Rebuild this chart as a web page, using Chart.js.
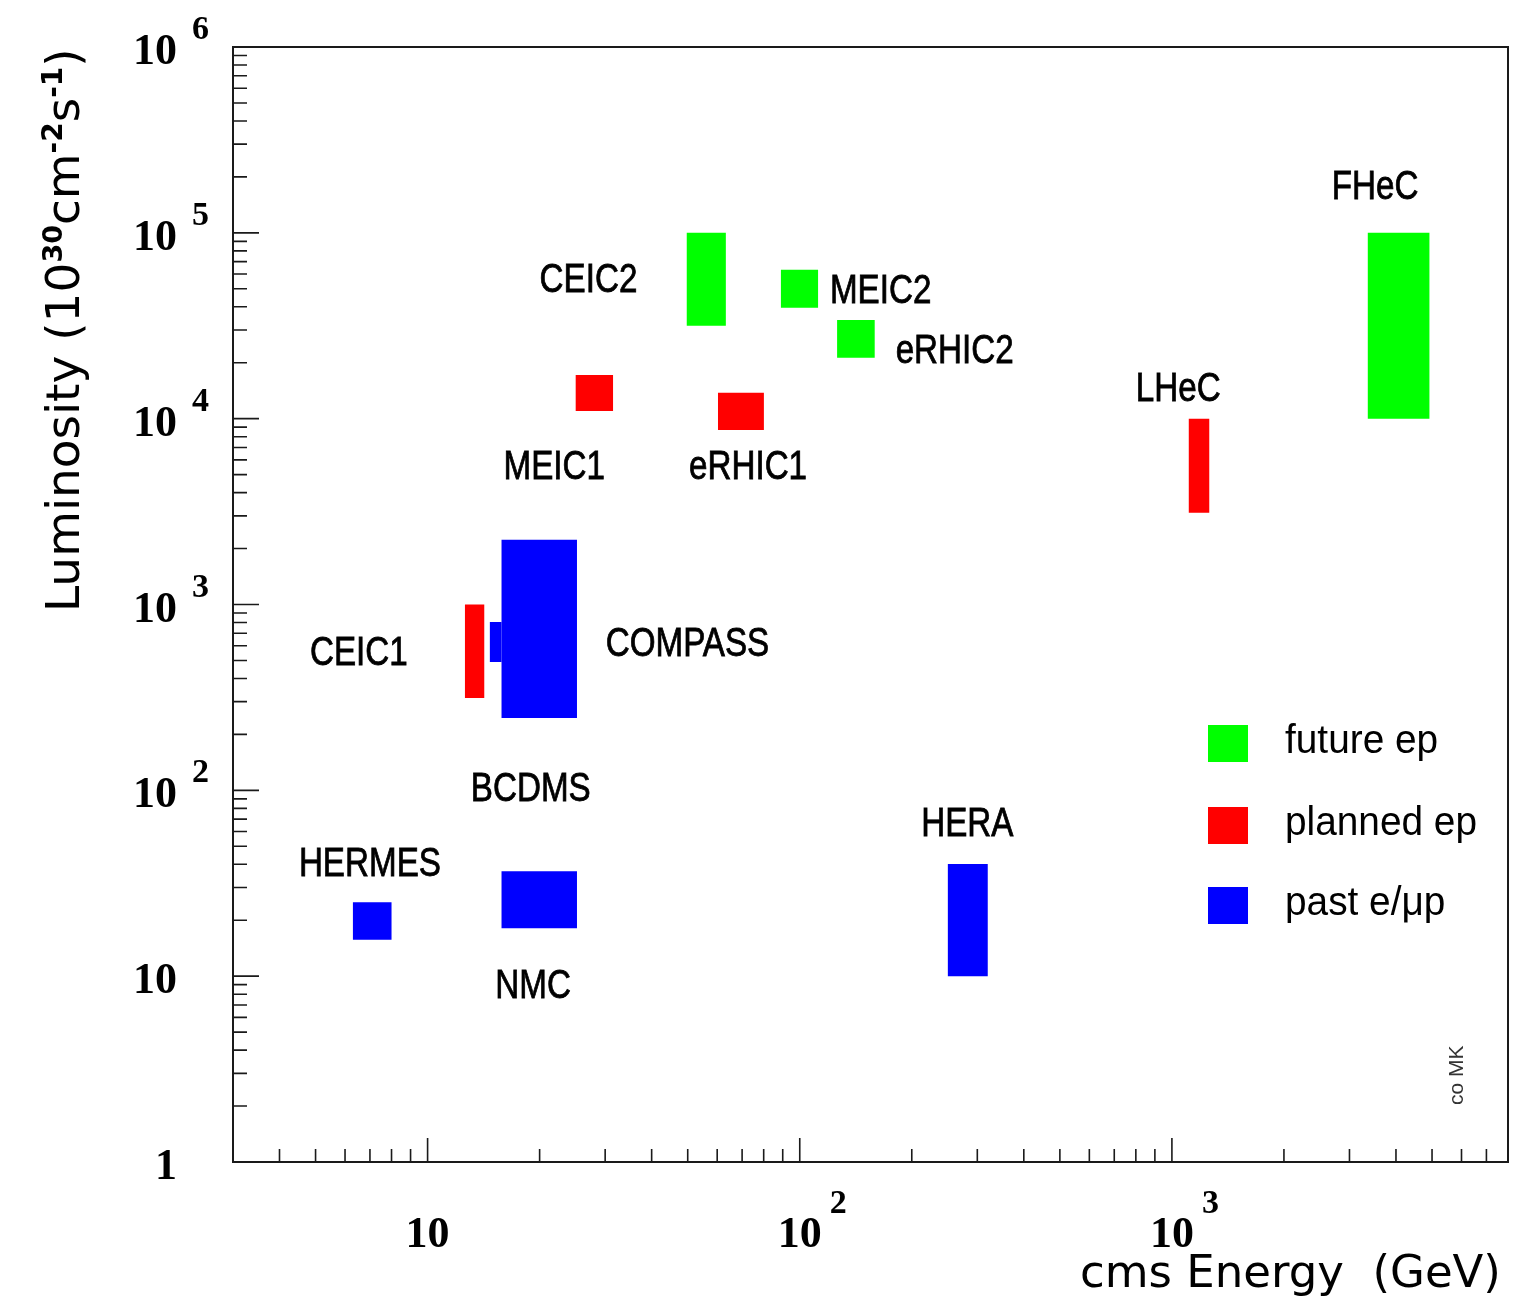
<!DOCTYPE html>
<html>
<head>
<meta charset="utf-8">
<script src="https://cdn.jsdelivr.net/npm/chart.js@4.4.1/dist/chart.umd.min.js"></script>
<style>
    html, body { margin: 0; padding: 0; background: #fff; }
    #wrap { width: 1519px; height: 1311px; position: relative; }
</style>
</head>
<body>
<div id="wrap"><canvas id="lumiChart"></canvas></div>
<script>
// axis ranges (log scales)
const energyRange = [3, 8000];
const lumiRange = [1, 1e6];

// boxes: cms energy (GeV) and luminosity (1e30 cm^-2 s^-1) ranges
const boxNames   = ['HERMES', 'NMC', 'COMPASS', 'COMPASS', 'HERA', 'CEIC1', 'MEIC1', 'eRHIC1', 'LHeC', 'CEIC2', 'MEIC2', 'eRHIC2', 'FHeC'];
const boxGroup   = ['past', 'past', 'past', 'past', 'past', 'planned', 'planned', 'planned', 'planned', 'future', 'future', 'future', 'future'];
const energyLow  = [6.3, 15.8, 15.8, 14.7, 250, 12.6, 25.0, 60.3, 1110, 49.7, 89.0, 126, 3360];
const energyHigh = [8.0, 25.2, 25.2, 15.8, 320, 14.2, 31.5, 80.1, 1260, 63.3, 112, 159, 4920];
const lumiLow    = [15.7, 18.1, 245, 491, 10, 314, 11000, 8700, 3120, 31600, 39500, 21300, 10000];
const lumiHigh   = [25.0, 36.7, 2230, 806, 40.2, 1000, 17200, 13800, 10000, 100000, 63200, 34000, 100000];

// text labels, anchored at (energy, luminosity) = left / baseline
const labelNames = ['HERMES', 'NMC', 'COMPASS', 'BCDMS', 'HERA', 'CEIC1', 'MEIC1', 'eRHIC1', 'LHeC', 'CEIC2', 'MEIC2', 'eRHIC2', 'FHeC'];
const labelX     = [4.51, 15.2, 30.1, 13.07, 212, 4.83, 16.0, 50.4, 800, 20.0, 120.5, 181, 2690];
const labelY     = [34.6, 7.63, 529, 87.7, 56.8, 473, 4740, 4740, 12470, 48100, 42000, 19950, 152000];

const legendGroups = ['future', 'planned', 'past'];
const legendLabels = ['future ep', 'planned ep', 'past e/\u03BCp'];
const groupColors = { future: '#00ff00', planned: '#ff0000', past: '#0000ff' };

const yDecades = [0, 1, 2, 3, 4, 5, 6];
const xDecades = [1, 2, 3];

//..one closed polygon per box
const datasets = boxNames.map((name, i) => ({
    label: name,
    data: [
        { x: energyLow[i],  y: lumiLow[i] },
        { x: energyHigh[i], y: lumiLow[i] },
        { x: energyHigh[i], y: lumiHigh[i] },
        { x: energyLow[i],  y: lumiHigh[i] },
        { x: energyLow[i],  y: lumiLow[i] }
    ],
    showLine: true,
    fill: 'shape',
    backgroundColor: groupColors[boxGroup[i]],
    borderColor: 'rgba(0,0,0,0)',
    borderWidth: 1,
    pointRadius: 0,
    tension: 0
}));

function drawRuns(ctx, runs, x, y) {
    //..runs: [text, size, weight, rise, family]
    let cx = x;
    runs.forEach(r => {
        ctx.font = `${r[2]} ${r[1]}px ${r[4]}`;
        ctx.fillText(r[0], cx, y - r[3]);
        cx += ctx.measureText(r[0]).width;
    });
}

const axisFrame = {
    id: 'axisFrame',
    afterDraw(chart) {
        const { ctx, chartArea: a, scales: { x, y } } = chart;
        ctx.save();

        //..frame
        ctx.strokeStyle = '#1a1a1a';
        ctx.lineWidth = 2;
        ctx.strokeRect(a.left, a.top, a.right - a.left, a.bottom - a.top);

        //..ticks
        ctx.lineWidth = 1.6;
        ctx.beginPath();
        for (let d = 0; d < 6; d++) {
            for (let k = 1; k <= 9; k++) {
                const v = k * Math.pow(10, d);
                const py = y.getPixelForValue(v);
                const len = k === 1 ? 26 : 14;
                ctx.moveTo(a.left, py);
                ctx.lineTo(a.left + len, py);
            }
        }
        for (let d = 0; d < 4; d++) {
            for (let k = 1; k <= 9; k++) {
                const v = k * Math.pow(10, d);
                if (v <= energyRange[0] || v >= energyRange[1]) continue;
                const px = x.getPixelForValue(v);
                const len = k === 1 ? 24 : 13;
                ctx.moveTo(px, a.bottom);
                ctx.lineTo(px, a.bottom - len);
            }
        }
        ctx.stroke();

        //..tick labels
        ctx.fillStyle = '#000';
        const serif = '"Liberation Serif", "Times New Roman", serif';
        yDecades.forEach(d => {
            const py = y.getPixelForValue(Math.pow(10, d));
            ctx.font = `bold 44px ${serif}`;
            ctx.textAlign = 'right';
            ctx.fillText(d === 0 ? '1' : '10', a.left - 56, py + 17);
            if (d > 1) {
                ctx.font = `bold 34px ${serif}`;
                ctx.textAlign = 'left';
                ctx.fillText(String(d), a.left - 41, py - 8);
            }
        });
        xDecades.forEach(d => {
            const px = x.getPixelForValue(Math.pow(10, d));
            ctx.font = `bold 44px ${serif}`;
            ctx.textAlign = 'center';
            ctx.fillText('10', px, a.bottom + 85);
            if (d > 1) {
                ctx.font = `bold 34px ${serif}`;
                ctx.textAlign = 'left';
                ctx.fillText(String(d), px + 30, a.bottom + 51);
            }
        });

        //..box labels (narrow sans, a touch heavier)
        ctx.textAlign = 'left';
        ctx.font = '40px "Liberation Sans", Arial, sans-serif';
        ctx.strokeStyle = '#000';
        ctx.lineWidth = 0.8;
        labelNames.forEach((name, i) => {
            const px = x.getPixelForValue(labelX[i]);
            const py = y.getPixelForValue(labelY[i]);
            ctx.save();
            ctx.translate(px, py);
            ctx.scale(0.83, 1);
            ctx.fillText(name, 0, 0);
            ctx.strokeText(name, 0, 0);
            ctx.restore();
        });

        //..legend
        const lx = a.left + 975;
        const lyTop = [a.top + 678, a.top + 760, a.top + 840];
        legendGroups.forEach((g, i) => {
            ctx.fillStyle = groupColors[g];
            ctx.fillRect(lx, lyTop[i], 40, 37);
            ctx.fillStyle = '#000';
            ctx.font = '40px "Liberation Sans", Arial, sans-serif';
            ctx.save();
            ctx.translate(lx + 77, lyTop[i] + 28);
            ctx.scale(0.97, 1);
            ctx.fillText(legendLabels[i], 0, 0);
            ctx.restore();
        });

        //..axis titles
        const sans = '"DejaVu Sans", sans-serif';
        ctx.font = `45px ${sans}`;
        ctx.fillText('cms Energy  (GeV)', 1080, a.bottom + 125);

        ctx.save();
        ctx.translate(79, 612);
        ctx.rotate(-Math.PI / 2);
        drawRuns(ctx, [
            ['Luminosity (10', 47, 'normal', 0, sans],
            ['30', 27, 'bold', 17, sans],
            ['cm', 47, 'normal', 0, sans],
            ['-2', 28, 'bold', 17, sans],
            ['s', 47, 'normal', 0, sans],
            ['-1', 28, 'bold', 17, sans],
            [')', 47, 'normal', 0, sans]
        ], 0, 0);
        ctx.restore();

        //..credit
        ctx.save();
        ctx.translate(1463, 1105);
        ctx.rotate(-Math.PI / 2);
        ctx.fillStyle = '#333';
        ctx.font = '21px "Liberation Sans", Arial, sans-serif';
        ctx.fillText('co MK', 0, 0);
        ctx.restore();

        ctx.restore();
    }
};

new Chart(document.getElementById('lumiChart'), {
    type: 'scatter',
    data: { datasets: datasets },
    options: {
        responsive: true,
        maintainAspectRatio: false,
        animation: false,
        layout: { padding: { left: 233, top: 47, right: 11, bottom: 149 } },
        plugins: {
            legend: { display: false },
            tooltip: { enabled: false }
        },
        scales: {
            x: { type: 'logarithmic', min: energyRange[0], max: energyRange[1], display: false },
            y: { type: 'logarithmic', min: lumiRange[0], max: lumiRange[1], display: false }
        }
    },
    plugins: [axisFrame]
});
</script>
</body>
</html>
